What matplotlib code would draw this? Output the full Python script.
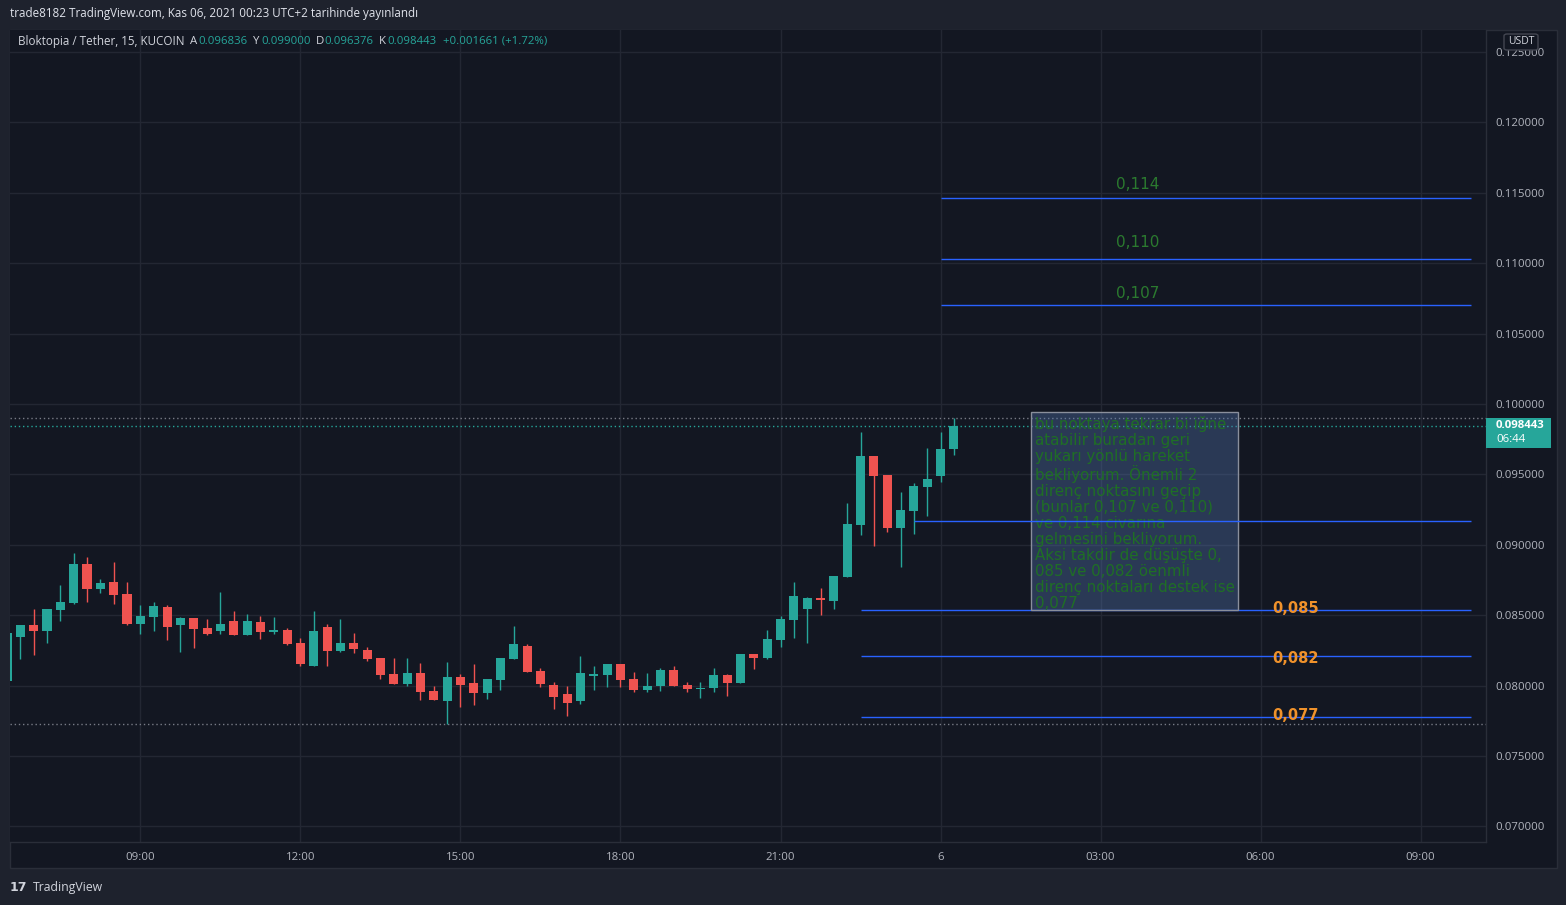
import matplotlib
matplotlib.use('Agg')
import matplotlib.pyplot as plt
import matplotlib.transforms as mtransforms
from matplotlib.patches import Rectangle, FancyBboxPatch
import numpy as np

# --- data: 15 dakikalık mumlar, 06:30'dan ertesi gün 00:15'e kadar ---
opens = [0.0803, 0.08348, 0.08431, 0.08390, 0.08537, 0.08585, 0.08864, 0.08687, 0.08736, 0.08651,
         0.08438, 0.08488, 0.08559, 0.08431, 0.08481, 0.08410, 0.08388, 0.08459, 0.08360, 0.08452,
         0.08381, 0.08395, 0.08303, 0.08140, 0.08417, 0.08246, 0.08303, 0.08253, 0.08197, 0.08083,
         0.08012, 0.08090, 0.07962, 0.07891, 0.08062, 0.08019, 0.07948, 0.08040, 0.08190, 0.08282,
         0.08104, 0.08005, 0.07941, 0.07891, 0.08069, 0.08076, 0.08154, 0.08048, 0.07969, 0.07998,
         0.08111, 0.08005, 0.07976, 0.07984, 0.08076, 0.08019, 0.08225, 0.08197, 0.08324, 0.08466,
         0.08545, 0.08623, 0.08601, 0.08772, 0.09141, 0.09631, 0.09496, 0.09120, 0.09240, 0.09411,
         0.09489, 0.096836]
highs = [0.0837, 0.08431, 0.08545, 0.08545, 0.08715, 0.08942, 0.08914, 0.08758, 0.08878, 0.08736,
         0.08573, 0.08594, 0.08573, 0.08488, 0.08481, 0.08474, 0.08665, 0.08530, 0.08509, 0.08495,
         0.08488, 0.08410, 0.08338, 0.08530, 0.08438, 0.08474, 0.08374, 0.08275, 0.08197, 0.08197,
         0.08197, 0.08161, 0.07998, 0.08168, 0.08083, 0.08154, 0.08048, 0.08197, 0.08424, 0.08296,
         0.08126, 0.08026, 0.07998, 0.08211, 0.08140, 0.08154, 0.08154, 0.08097, 0.08090, 0.08126,
         0.08140, 0.08026, 0.08026, 0.08126, 0.08083, 0.08225, 0.08225, 0.08395, 0.08495, 0.08736,
         0.08630, 0.08694, 0.08779, 0.09297, 0.09801, 0.09631, 0.09496, 0.09375, 0.09439, 0.09688,
         0.09801, 0.099000]
lows = [0.0803, 0.08190, 0.08218, 0.08305, 0.08459, 0.08580, 0.08594, 0.08658, 0.08580, 0.08431,
        0.08367, 0.08388, 0.08324, 0.08239, 0.08268, 0.08360, 0.08367, 0.08360, 0.08360, 0.08331,
        0.08367, 0.08289, 0.08140, 0.08140, 0.08140, 0.08239, 0.08232, 0.08176, 0.08048, 0.08012,
        0.07998, 0.07898, 0.07898, 0.07727, 0.07849, 0.07863, 0.07905, 0.07969, 0.08190, 0.08097,
        0.07991, 0.07835, 0.07785, 0.07870, 0.07969, 0.07991, 0.07991, 0.07955, 0.07955, 0.07962,
        0.07998, 0.07955, 0.07913, 0.07955, 0.07927, 0.08019, 0.08119, 0.08190, 0.08275, 0.08338,
        0.08303, 0.08502, 0.08545, 0.08772, 0.09070, 0.08992, 0.09091, 0.08843, 0.09077, 0.09205,
        0.09446, 0.096376]
closes = [0.0837, 0.08431, 0.08390, 0.08545, 0.08594, 0.08864, 0.08687, 0.08729, 0.08644, 0.08438,
          0.08495, 0.08566, 0.08417, 0.08481, 0.08403, 0.08367, 0.08438, 0.08360, 0.08459, 0.08381,
          0.08395, 0.08296, 0.08154, 0.08388, 0.08246, 0.08303, 0.08261, 0.08190, 0.08076, 0.08012,
          0.08090, 0.07955, 0.07898, 0.08062, 0.08005, 0.07948, 0.08048, 0.08197, 0.08296, 0.08097,
          0.08012, 0.07920, 0.07877, 0.08090, 0.08083, 0.08154, 0.08040, 0.07969, 0.07998, 0.08111,
          0.07998, 0.07976, 0.07984, 0.08076, 0.08019, 0.08225, 0.08197, 0.08331, 0.08474, 0.08637,
          0.08623, 0.08608, 0.08779, 0.09148, 0.09631, 0.09489, 0.09120, 0.09247, 0.09418, 0.09468,
          0.09681, 0.098443]
change_text = '+0.001661 (+1.72%)'

tick_pos = [10, 22, 34, 46, 58, 70, 82, 94, 106]
tick_labels = ['09:00', '12:00', '15:00', '18:00', '21:00', '6', '03:00', '06:00', '09:00']
price_ticks = [0.070, 0.075, 0.080, 0.085, 0.090, 0.095, 0.100, 0.105, 0.110, 0.115, 0.120, 0.125]

# çizilen yatay seviyeler
resist_levels = [0.1146, 0.1103, 0.10703]
resist_label_y = [0.11562, 0.11150, 0.10788]
resist_labels = ['0,114', '0,110', '0,107']
support_levels = [0.08537, 0.08211, 0.07778]
support_label_y = [0.08544, 0.08190, 0.07785]
support_labels = ['0,085', '0,082', '0,077']
mid_level = 0.09169

note = ("bu noktaya tekrar bi iğne\natabilir buradan geri\nyukarı yönlü hareket\n"
        "bekliyorum. Önemli 2\ndirenç noktasını geçip\n(bunlar 0,107 ve 0,110)\n"
        "ve 0,114 civarına\ngelmesini bekliyorum.\nAksi takdir de düşüşte 0,\n"
        "085 ve 0,082 öenmli\ndirenç noktaları destek ise\n0,077")

W, H = 1566, 905
def fx(px):
    return px / W
def fy(py):
    return 1 - py / H

plt.rcParams['font.family'] = ['Open Sans', 'DejaVu Sans']

UP = '#26a69a'
DOWN = '#ef5350'
TXT = '#b2b5be'
GRID = '#232733'
LEVEL = '#2962ff'

fig = plt.figure(figsize=(W / 100, H / 100), dpi=100, facecolor='#1e222d')

# pane background
fig.patches.append(Rectangle((fx(10), fy(868)), fx(1547), 838 / H, transform=fig.transFigure,
                             facecolor='#131722', edgecolor='#2a2e39', linewidth=1, zorder=-2))

ax = fig.add_axes([fx(10), fy(842), fx(1476), 812 / H])
ax.set_facecolor('#131722')

idx = np.arange(len(opens))
o = np.array(opens); c = np.array(closes); h = np.array(highs); l = np.array(lows)
cols = [UP if cc >= oo else DOWN for oo, cc in zip(o, c)]
ax.vlines(idx, l, h, colors=cols, linewidth=1, zorder=3)
body_bot = np.minimum(o, c)
body_h = np.maximum(np.abs(c - o), 0.00003)
ax.bar(idx, body_h, bottom=body_bot, width=0.68, color=cols, linewidth=0, zorder=4)

ax.set_xlim(0.225, 110.9)
ax.set_ylim(0.06889, 0.12656)

ax.set_xticks(tick_pos)
ax.set_xticklabels(tick_labels)
ax.set_yticks(price_ticks)
ax.set_yticklabels([f'{v:.6f}' for v in price_ticks])
ax.yaxis.tick_right()
ax.tick_params(axis='y', length=0, pad=7, labelcolor=TXT, labelsize=8.2)
ax.tick_params(axis='x', length=0, pad=7.5, labelcolor=TXT, labelsize=8.2)
ax.grid(True, color=GRID, linewidth=1, zorder=0)
ax.set_axisbelow(True)
for s in ['top', 'left']:
    ax.spines[s].set_visible(False)
for s in ['right', 'bottom']:
    ax.spines[s].set_color('#2a2e39')
    ax.spines[s].set_linewidth(1)

# high / low / last price dotted lines
ax.axhline(max(highs), color='#787b86', linestyle=(0, (1, 2)), linewidth=1, zorder=2)
ax.axhline(min(lows), color='#787b86', linestyle=(0, (1, 2)), linewidth=1, zorder=2)
ax.axhline(closes[-1], color=UP, linestyle=(0, (1, 2)), linewidth=1, zorder=2)

# direnç seviyeleri
for lv, ly, lb in zip(resist_levels, resist_label_y, resist_labels):
    ax.hlines(lv, 70, 109.75, color=LEVEL, linewidth=1, zorder=5)
    ax.text(84.8, ly, lb, color='#2b7a2f', fontsize=11, ha='center', va='center',
            family=['DejaVu Sans'])
ax.hlines(mid_level, 68, 109.75, color=LEVEL, linewidth=1, zorder=6)
for lv, ly, lb in zip(support_levels, support_label_y, support_labels):
    ax.hlines(lv, 64, 109.75, color=LEVEL, linewidth=1, zorder=5)
    ax.text(96.6, ly, lb, color='#f0922b', fontsize=10.5, fontweight='bold', ha='center',
            va='center', family=['DejaVu Sans'], zorder=7)

# not kutusu
ax.add_patch(Rectangle((76.8, 0.08537), 15.5, 0.09943 - 0.08537, facecolor='#5073aa', alpha=0.38,
                       edgecolor='none', zorder=4))
ax.add_patch(Rectangle((76.8, 0.08537), 15.5, 0.09943 - 0.08537, facecolor='none',
                       edgecolor='#8a8f9c', linewidth=1, zorder=5))
ax.text(77.05, 0.09915, note, color='#1f6f25', fontsize=10.8, va='top', ha='left',
        linespacing=1.08, family=['DejaVu Sans'], zorder=5)

# son fiyat etiketi
bt = mtransforms.blended_transform_factory(fig.transFigure, ax.transData)
last = closes[-1]
fig.patches.append(Rectangle((fx(1486), last - 0.00157), fx(65), 0.00214, transform=bt,
                             facecolor=UP, edgecolor='none', zorder=5))
fig.text(fx(1496), last, f'{last:.6f}', transform=bt, color='white', fontsize=8.2,
         fontweight='bold', va='center', ha='left', zorder=6)
fig.text(fx(1496), last - 0.001, '06:44', transform=bt, color='white', fontsize=8.2,
         va='center', ha='left', zorder=6)

# USDT
fig.patches.append(FancyBboxPatch((fx(1504), fy(50)), fx(34), 16 / H, transform=fig.transFigure,
                                  boxstyle='round,pad=0,rounding_size=0.002', facecolor='#131722',
                                  edgecolor='#434651', linewidth=1, zorder=5))
fig.text(fx(1521), fy(42), 'USDT', color='#d1d4dc', fontsize=7.5, ha='center', va='center', zorder=6)

# üst başlıklar
fig.text(fx(10), fy(14), 'trade8182 TradingView.com, Kas 06, 2021 00:23 UTC+2 tarihinde yayınlandı',
         color='#e0e3eb', fontsize=8.35, va='center', ha='left')
fig.text(fx(18), fy(41), 'Bloktopia / Tether, 15, KUCOIN', color='#d1d4dc', fontsize=8.4,
         va='center', ha='left')
ohlc = [('A', opens[-1], 190), ('Y', highs[-1], 253), ('D', lows[-1], 316), ('K', closes[-1], 379)]
for lab, val, px in ohlc:
    fig.text(fx(px), fy(41), lab, color='#d1d4dc', fontsize=8.2, va='center', ha='left')
    fig.text(fx(px + 8), fy(41), f'{val:.6f}', color=UP, fontsize=8.2, va='center', ha='left')
fig.text(fx(443), fy(41), change_text, color=UP, fontsize=8.2, va='center', ha='left')

# alt logo
fig.text(fx(10), fy(887), '17', color='#d1d4dc', fontsize=9, fontweight='heavy', va='center',
         ha='left', family=['DejaVu Sans'])
fig.text(fx(33), fy(887), 'TradingView', color='#d1d4dc', fontsize=8.8, va='center', ha='left')

fig.savefig('out.png', dpi=100, facecolor=fig.get_facecolor())
